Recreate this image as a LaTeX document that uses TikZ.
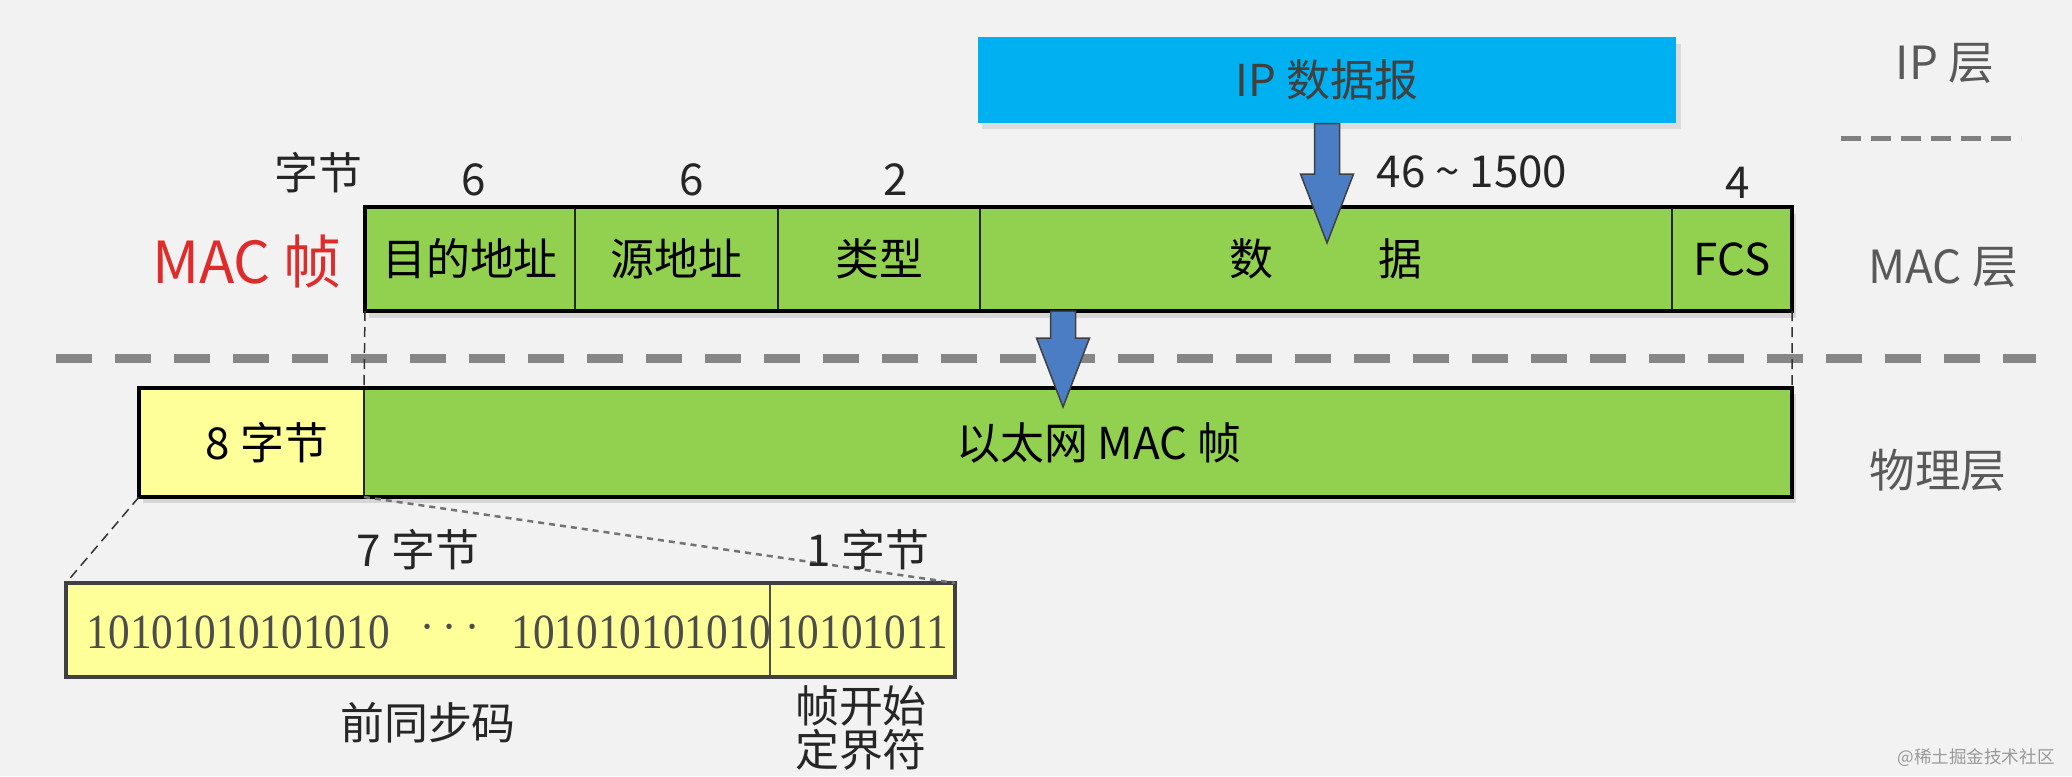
\documentclass[tikz,border=0pt]{standalone}
\usepackage{fontspec}
\setmainfont{Noto Sans CJK SC}
\newfontfamily\bitfont[FakeStretch=0.88]{Liberation Serif}
\usepackage{tikz}
\usetikzlibrary{positioning,arrows,calc}

\definecolor{bggray}{HTML}{F2F2F2}
\definecolor{ipblue}{HTML}{00B0F0}
\definecolor{macgreen}{HTML}{92D050}
\definecolor{preyellow}{HTML}{FFFF99}
\definecolor{arrowblue}{HTML}{4A7DC4}
\definecolor{macred}{HTML}{E02B2B}
\definecolor{layergray}{HTML}{595959}

% block arrow: from #1 down to tip #2
\newcommand{\blkarrow}[2]{%
	\draw[black!75,line width=0.15mm,fill=arrowblue] let \p1=(#1), \p2=(#2) in
		(\x1-1.25mm,\y1) -- (\x1+1.25mm,\y1) -- (\x1+1.25mm,\y2+6.9mm)
		-- (\x1+2.65mm,\y2+6.9mm) -- (\x1,\y2) -- (\x1-2.65mm,\y2+6.9mm)
		-- (\x1-1.25mm,\y2+6.9mm) -- cycle;}

\begin{document}
\begin{tikzpicture}[>=latex,x=0.1mm,y=-0.1mm,
	every node/.style={font=\fontsize{12.5}{15}\selectfont},
	cell/.style={draw=black!85,line width=0.2mm,fill=macgreen,inner sep=0pt,outer sep=0pt,minimum height=10.4mm},
	yell/.style={cell,fill=preyellow,minimum height=9.4mm,draw=black!70},
	count/.style={text=black!85},
	layer/.style={text=layergray,font=\fontsize{13}{15}\selectfont},
	bits/.style={text=black!70,inner sep=0pt,font=\bitfont\fontsize{14}{16}\selectfont},
	guide/.style={black!80,line width=0.15mm,dash pattern=on 1mm off 0.6mm}]

	\useasboundingbox (0,0) rectangle (2072,776);
	\fill[bggray] (0,0) rectangle (2072,776);

	% IP layer
	\fill[black!14] (982,44) rectangle (1681,129);
	\node[fill=ipblue,text=black!75,minimum width=69.8mm,minimum height=8.6mm,inner sep=0pt] (ip) at (1327,80) {IP 数据报};

	\node[layer] (iplayer) at (1945,63) {IP 层};
	\node[layer] (maclayer) at (1943,267) {MAC 层};
	\node[layer] (phylayer) at (1938,470) {物理层};
	\draw[gray,line width=0.5mm,dash pattern=on 2mm off 1mm] (1841,139) -- (2021,139);
	\draw[gray!95,line width=0.9mm,dash pattern=on 3.6mm off 2.3mm] (56,358) -- (2036,358);

	% MAC frame
	\fill[black!16] (369,214) rectangle (1796,318);
	\node[cell,minimum width=21mm] (dst) at (470,259) {目的地址};
	\node[cell,minimum width=20.3mm,right=0mm of dst] (src) {源地址};
	\node[cell,minimum width=20.2mm,right=0mm of src] (type) {类型};
	\node[cell,minimum width=69.2mm,right=0mm of type] (data) {数\hspace{10.6mm}据};
	\node[cell,minimum width=12mm,right=0mm of data] (fcs) {FCS};
	\draw[line width=0.4mm] (dst.north west) rectangle (fcs.south east);

	\node[text=macred,font=\fontsize{16.5}{18}\selectfont] (macframe) at (247,262) {MAC 帧};
	\node[count] (bytes) at (318,173) {字节};
	\node[count] (ndst) at (474,180) {6};
	\node[count] (nsrc) at (692,180) {6};
	\node[count] (ntype) at (896,180) {2};
	\node[count] (ndata) at (1472,172) {46 \textasciitilde{} 1500};
	\node[count] (nfcs) at (1738,183) {4};

	% physical layer
	\fill[black!16] (143,394) rectangle (1796,503);
	\node[cell,fill=preyellow,minimum width=22.5mm,minimum height=10.9mm] (pre) at (251.5,442.5) {\hspace*{3.1mm}8 字节};
	\node[cell,minimum width=142.8mm,minimum height=10.9mm,right=0mm of pre] (eth) {\hspace*{4.2mm}以太网 MAC 帧};
	\draw[line width=0.4mm] (pre.north west) rectangle (eth.south east);

	\coordinate (tip1) at (1326,243);
	\coordinate (tip2) at (1063,407);
	\blkarrow{ip.south}{tip1}
	\blkarrow{data.south -| tip2}{tip2}

	\draw[guide] (dst.south west) -- (pre.north east);
	\draw[guide] (fcs.south east) -- (eth.north east);

	% preamble + SFD
	\node[yell,minimum width=70.4mm] (sync) at (418,630) {};
	\node[yell,minimum width=18.5mm,right=0mm of sync] (sfd) {};
	\node[bits,anchor=west] (bitsa) at (86,632) {10101010101010};
	\node[bits] (dots) at (450,628) {$\cdots$};
	\node[bits,anchor=east] (bitsb) at (772,632) {101010101010};
	\node[bits] (bitsc) at (862,632) {10101011};
	\draw[black!70,line width=0.2mm] (sfd.north west) -- (sfd.south west);
	\draw[black!75,line width=0.35mm] (sync.north west) rectangle (sfd.south east);

	\draw[guide] (pre.south west) -- (sync.north west);
	\draw[black!55,line width=0.25mm,dash pattern=on 0.6mm off 0.5mm] (pre.south east) -- (sfd.north east);

	\node[count] (sevenb) at (418,550) {7 字节};
	\node[count] (oneb) at (868,550) {1 字节};
	\node[count] (syncname) at (428,723) {前同步码};
	\node[count,align=center,font=\fontsize{12.5}{11.5}\selectfont] (sfdname) at (861,728) {帧开始\\定界符};

	\node[text=gray!80,anchor=east,font=\fontsize{5}{6}\selectfont] (mark) at (2067,758) {@稀土掘金技术社区};
\end{tikzpicture}
\end{document}
